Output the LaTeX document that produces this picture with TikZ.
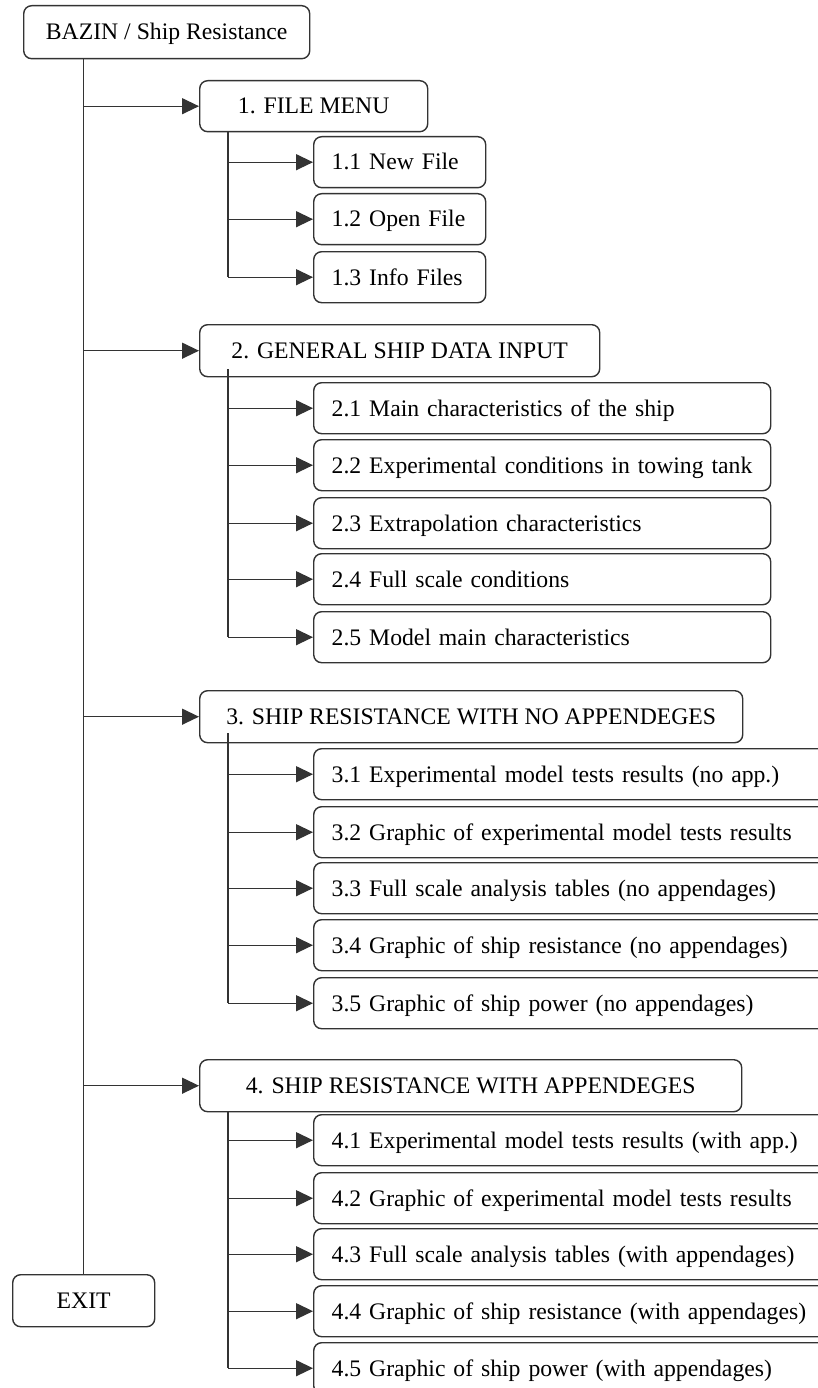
\documentclass[tikz,border=0pt]{standalone}
\usepackage{fontspec}
\setmainfont{Liberation Serif}
\usetikzlibrary{arrows.meta,calc}
\begin{document}
\begin{tikzpicture}[x=1pt,y=-1pt,
  box/.style={draw=black!80, line width=1.4pt, rounded corners=8pt, inner sep=0pt,
    anchor=north west, font=\fontsize{23.7}{28}\selectfont, text height=20.6pt, text depth=5pt},
  mainbox/.style={box, align=center},
  subbox/.style={box, inner xsep=18pt, align=left},
  sone/.style={subbox, text width=136pt, minimum height=51pt},
  stwo/.style={subbox, text width=421pt, minimum height=51pt},
  sthree/.style={subbox, text width=481pt, minimum height=51pt},
  conn/.style={draw=black!80, line width=1.3pt},
  arr/.style={conn, -{Triangle[length=17pt,width=16pt]}}]
\useasboundingbox (0,0) rectangle (818,1388);
\clip (0,0) rectangle (818,1388);
\fill[white] (0,0) rectangle (818,1388);

% top and exit
\node[mainbox, minimum width=286pt, minimum height=53pt] (top) at (23,5) {BAZIN / Ship Resistance};
\node[mainbox, minimum width=142pt, minimum height=52pt] (exit) at (12,1274) {EXIT};

% level 1
\node[mainbox, minimum width=228pt, minimum height=51pt] (b1) at (199,80) {1. FILE MENU};
\node[mainbox, minimum width=400pt, minimum height=52pt] (b2) at (199,324) {2. GENERAL SHIP DATA INPUT};
\node[mainbox, minimum width=543pt, minimum height=52pt] (b3) at (199,690) {3. SHIP RESISTANCE WITH NO APPENDEGES};
\node[mainbox, minimum width=542pt, minimum height=52pt] (b4) at (199,1059) {4. SHIP RESISTANCE WITH APPENDEGES};

% 1.x
\node[sone] (b11) at (313,136) {1.1 New File};
\node[sone] (b12) at (313,193) {1.2 Open File};
\node[sone] (b13) at (313,251) {1.3 Info Files};

% 2.x
\node[stwo] (b21) at (313,382) {2.1 Main characteristics of the ship};
\node[stwo] (b22) at (313,439) {2.2 Experimental conditions in towing tank};
\node[stwo] (b23) at (313,497) {2.3 Extrapolation characteristics};
\node[stwo] (b24) at (313,553) {2.4 Full scale conditions};
\node[stwo] (b25) at (313,611) {2.5 Model main characteristics};

% 3.x
\node[sthree] (b31) at (313,748) {3.1 Experimental model tests results (no app.)};
\node[sthree] (b32) at (313,806) {3.2 Graphic of experimental model tests results};
\node[sthree] (b33) at (313,862) {3.3 Full scale analysis tables (no appendages)};
\node[sthree] (b34) at (313,919) {3.4 Graphic of ship resistance (no appendages)};
\node[sthree] (b35) at (313,977) {3.5 Graphic of ship power (no appendages)};

% 4.x
\node[sthree] (b41) at (313,1114) {4.1 Experimental model tests results (with app.)};
\node[sthree] (b42) at (313,1172) {4.2 Graphic of experimental model tests results};
\node[sthree] (b43) at (313,1228) {4.3 Full scale analysis tables (with appendages)};
\node[sthree] (b44) at (313,1285) {4.4 Graphic of ship resistance (with appendages)};
\node[sthree] (b45) at (313,1342) {4.5 Graphic of ship power (with appendages)};

% main trunk
\coordinate (m) at (top.south -| exit.north);
\draw[conn] (m) -- (exit.north);
\foreach \b in {b1,b2,b3,b4} {\draw[arr] (m |- \b.west) -- (\b.west);}

% sub trunks
\coordinate (t1) at ($(b1.south west)+(29,0)$);
\coordinate (t2) at ($(b2.south west)+(29,-8)$);
\coordinate (t3) at ($(b3.south west)+(29,-10)$);
\coordinate (t4) at ($(b4.south west)+(29,0)$);
\draw[conn] (t1) -- (t1 |- b13.west);
\draw[conn] (t2) -- (t2 |- b25.west);
\draw[conn] (t3) -- (t3 |- b35.west);
\draw[conn] (t4) -- (t4 |- b45.west);
\foreach \b in {b11,b12,b13} {\draw[arr] (t1 |- \b.west) -- (\b.west);}
\foreach \b in {b21,b22,b23,b24,b25} {\draw[arr] (t2 |- \b.west) -- (\b.west);}
\foreach \b in {b31,b32,b33,b34,b35} {\draw[arr] (t3 |- \b.west) -- (\b.west);}
\foreach \b in {b41,b42,b43,b44,b45} {\draw[arr] (t4 |- \b.west) -- (\b.west);}
\end{tikzpicture}
\end{document}
